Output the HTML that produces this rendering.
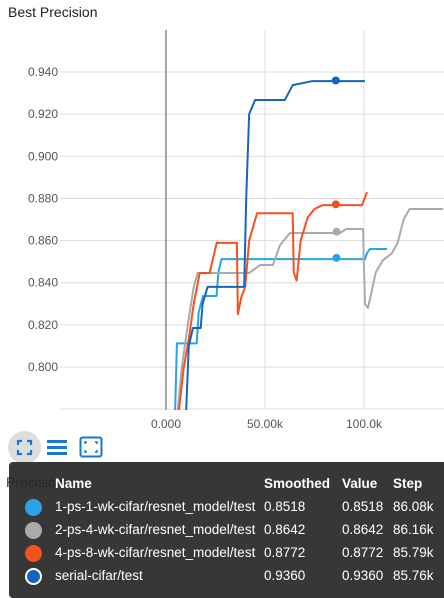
<!DOCTYPE html>
<html><head><meta charset="utf-8"><style>
body{margin:0;width:444px;height:598px;overflow:hidden;background:#fff;font-family:"Liberation Sans",sans-serif;position:relative}
#title{position:absolute;left:8px;top:4px;font-size:14px;color:#212121}
#legend{position:absolute;left:9px;top:462px;width:440px;height:136px;background:rgba(40,40,40,0.93);border-radius:4px;color:#fff;font-size:13.5px}
.row{position:absolute;left:0;height:20px;width:100%}
.row span{position:absolute;top:0}
.dot{width:17px;height:17px;border-radius:50%;left:16px;top:0;box-sizing:border-box}
</style></head><body>
<div id="title">Best Precision</div>
<svg id="chart" width="444" height="460" style="position:absolute;left:0;top:0"></svg>
<div style="position:absolute;left:8px;top:431px;width:110px;height:32px">
 <div style="position:absolute;left:0;top:0;width:33px;height:33px;border-radius:50%;background:#ddd"><svg width="33" height="33"><path d="M10 14V10H14M19 10H23V14M23 19V23H19M14 23H10V19" stroke="#1976d2" stroke-width="2.2" fill="none"/></svg></div>
 <div style="position:absolute;left:39px;top:8px"><svg width="20" height="18"><rect x="0" y="1" width="20" height="3" fill="#1976d2"/><rect x="0" y="7" width="20" height="3" fill="#1976d2"/><rect x="0" y="13" width="20" height="3" fill="#1976d2"/></svg></div>
 <div style="position:absolute;left:71px;top:5px"><svg width="24" height="22"><rect x="1.5" y="1.5" width="21" height="19" rx="2" stroke="#1976d2" stroke-width="2" fill="none"/><path d="M6 8V6H8M16 6H18V8M18 14V16H16M8 16H6V14" stroke="#1976d2" stroke-width="1.5" fill="none"/></svg></div>
</div>
<div style="position:absolute;left:6px;top:474px;font-size:14px;color:#333">Precision</div>
<div id="legend">
 <div class="row" style="top:14px;font-weight:bold"><span style="left:46px">Name</span><span style="left:255px">Smoothed</span><span style="left:333px">Value</span><span style="left:384px">Step</span></div>
 <div class="row" style="top:37px"><span class="dot" style="background:#29a3e6"></span><span style="left:46px">1-ps-1-wk-cifar/resnet_model/test</span><span style="left:255px">0.8518</span><span style="left:333px">0.8518</span><span style="left:384px">86.08k</span></div>
 <div class="row" style="top:60px"><span class="dot" style="background:#aaa"></span><span style="left:46px">2-ps-4-wk-cifar/resnet_model/test</span><span style="left:255px">0.8642</span><span style="left:333px">0.8642</span><span style="left:384px">86.16k</span></div>
 <div class="row" style="top:83px"><span class="dot" style="background:#f4511e"></span><span style="left:46px">4-ps-8-wk-cifar/resnet_model/test</span><span style="left:255px">0.8772</span><span style="left:333px">0.8772</span><span style="left:384px">85.79k</span></div>
 <div class="row" style="top:106px"><span class="dot" style="background:#1565c0;border:2px solid #fff"></span><span style="left:46px">serial-cifar/test</span><span style="left:255px">0.9360</span><span style="left:333px">0.9360</span><span style="left:384px">85.76k</span></div>
</div>
<script>
const yTicks=[0.800,0.820,0.840,0.860,0.880,0.900,0.920,0.940];
const xTicks=[0,50000,100000];
const xTickLabels=["0.000","50.00k","100.0k"];
const s1Steps=[4.5,5.5,15.5,16.5,18.7,25.5,26.5,28,100.5,101.5,103,111.6];
const s1Vals=[0.775,0.8112,0.8112,0.826,0.8337,0.8337,0.845,0.8512,0.8512,0.854,0.856,0.856];
const s2Steps=[5.5,8,11,14,16,42,47.5,54,57.6,62.6,88,91,99.5,100.5,102,106,109.6,114,117,120,123,140];
const s2Vals=[0.775,0.80,0.82,0.838,0.8446,0.8446,0.8484,0.8484,0.8579,0.8636,0.8636,0.8655,0.8655,0.83,0.828,0.845,0.8507,0.8539,0.8589,0.87,0.875,0.875];
const s4Steps=[6,9,11.6,14,17,22,25.6,35.8,36.3,38,40,42,46,64,64.5,66,68,71.7,75,79,99,101.5];
const s4Vals=[0.775,0.80,0.8138,0.83,0.8446,0.8446,0.8589,0.8589,0.825,0.833,0.838,0.86,0.873,0.873,0.845,0.841,0.86,0.8712,0.875,0.8768,0.8768,0.883];
const s5Steps=[10,11.5,13.6,17.5,18.5,21,39.5,40.5,42,45,60,64,74,100.5];
const s5Vals=[0.775,0.81,0.8185,0.8185,0.83,0.838,0.838,0.88,0.92,0.9267,0.9267,0.9338,0.9357,0.9357];
const dots=[[86.08,0.8518,'#29a3e6'],[86.16,0.8642,'#aaa'],[85.79,0.8772,'#f4511e'],[85.76,0.936,'#1565c0']];
const X=k=>166+k*1.98, Y=v=>367-(v-0.8)/0.02*42.14;
const svg=document.getElementById('chart');const NS='http://www.w3.org/2000/svg';
function mk(t,a){const e=document.createElementNS(NS,t);for(const k in a)e.setAttribute(k,a[k]);svg.appendChild(e);return e;}
const clip=mk('clipPath',{id:'c'});const cr=document.createElementNS(NS,'rect');cr.setAttribute('x',58);cr.setAttribute('y',30);cr.setAttribute('width',386);cr.setAttribute('height',380);clip.appendChild(cr);
yTicks.forEach(v=>{const l=mk('line',{x1:60,x2:444,y1:Y(v),y2:Y(v),stroke:'#ddd'});

const t=mk('text',{x:58,y:Y(v)+4,'text-anchor':'end','font-size':'12','fill':'#555'});t.textContent=v.toFixed(3);
});
mk('line',{x1:60,x2:444,y1:409,y2:409,stroke:'#ddd'});
xTicks.forEach((v,i)=>{const l=mk('line',{x1:X(v/1000),x2:X(v/1000),y1:30,y2:410,stroke:i==0?'#888':'#ddd','stroke-width':i==0?1.5:1});

const t=mk('text',{x:X(v/1000),y:428,'text-anchor':'middle','font-size':'12','fill':'#555'});t.textContent=xTickLabels[i];
});
[[s1Steps,s1Vals,'#29a3e6','series-1ps'],[s2Steps,s2Vals,'#aaa','series-2ps'],[s4Steps,s4Vals,'#f4511e','series-4ps'],[s5Steps,s5Vals,'#1565c0','series-serial']].forEach(s=>{
const p=mk('polyline',{points:s[0].map((k,i)=>X(k)+','+Y(s[1][i])).join(' '),fill:'none',stroke:s[2],'stroke-width':2,'stroke-linejoin':'round','clip-path':'url(#c)'});
});
dots.forEach(d=>{const c=mk('circle',{cx:X(d[0]),cy:Y(d[1]),r:4,fill:d[2]});
});
</script>
</body></html>
